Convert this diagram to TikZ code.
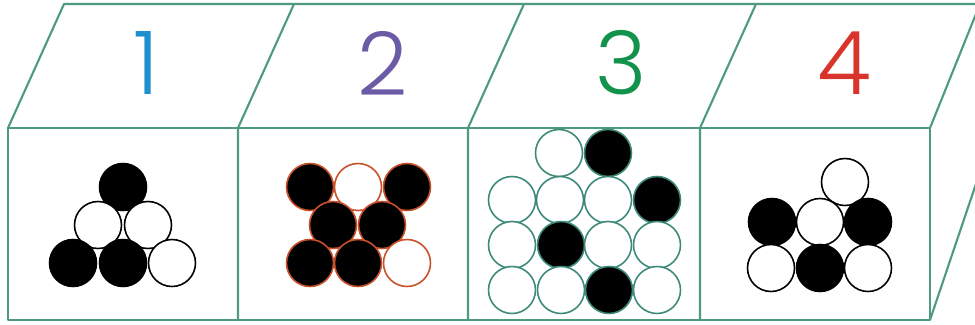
\documentclass[tikz,border=0pt]{standalone}
\usepackage{fontspec}
\setmainfont{Poppins Light}

\definecolor{framegreen}{HTML}{4E9A7C}
\definecolor{numblue}{HTML}{1E90D0}
\definecolor{numpurple}{HTML}{6B5BA6}
\definecolor{numgreen}{HTML}{12924A}
\definecolor{numred}{HTML}{D9342B}
\definecolor{rimred}{HTML}{C8502A}
\definecolor{rimgreen}{HTML}{3E8A78}

\begin{document}
\begin{tikzpicture}[
  x=0.02cm,y=-0.02cm,
  frame/.style={draw=framegreen,line width=1.2pt,line join=round},
  ball/.style={circle,draw,line width=0.9pt,minimum size=0.94cm,inner sep=0pt},
  blk/.style={ball,fill=black},
  wht/.style={ball,fill=white},
  num/.style={font=\fontsize{50}{50}\selectfont}
]
\useasboundingbox (0,0) rectangle (975,325);
\clip (0,0) rectangle (975,325);

% front corners (f = top, b = bottom) and back top corners
\foreach \i/\x in {0/8,1/238,2/468,3/700,4/930} {
  \coordinate (f\i) at (\x,128);
  \coordinate (b\i) at (\x,320);
  \coordinate (t\i) at (\x+56,4);
}
\coordinate (t4) at (980,4);
\coordinate (r4) at (980,172);

% box
\draw[frame] (b0) rectangle (f4);
\draw[frame] (f0) -- (t0) -- (t4) -- (f4);
\draw[frame] (b4) -- (r4) -- (t4);
\foreach \i in {1,2,3} {
  \draw[frame] (b\i) -- (f\i) -- (t\i);
}

% labels
\node[num,text=numblue]   (n1) at (146,63) {1};
\node[num,text=numpurple] (n2) at (383,63) {2};
\node[num,text=numgreen]  (n3) at (621,63) {3};
\node[num,text=numred]    (n4) at (844,63) {4};

% cell 1
\node[blk] (a1) at (123,187) {};
\node[wht] (a2) at (98,225) {};
\node[wht] (a3) at (148,225) {};
\node[blk] (a4) at (73,263) {};
\node[blk] (a5) at (123,263) {};
\node[wht] (a6) at (172,263) {};

% cell 2
\begin{scope}[every node/.append style={draw=rimred}]
\node[blk] (c1) at (310,187) {};
\node[wht] (c2) at (358,187) {};
\node[blk] (c3) at (407,187) {};
\node[blk] (c4) at (333,225) {};
\node[blk] (c5) at (382,225) {};
\node[blk] (c6) at (310,263) {};
\node[blk] (c7) at (358,263) {};
\node[wht] (c8) at (407,263) {};
\end{scope}

% cell 3
\begin{scope}[every node/.append style={draw=rimgreen}]
\node[wht] (d1) at (559,153) {};
\node[blk] (d2) at (608,153) {};
\node[wht] (d3) at (512,200) {};
\node[wht] (d4) at (560,200) {};
\node[wht] (d5) at (608,200) {};
\node[blk] (d6) at (657,200) {};
\node[wht] (d7) at (512,245) {};
\node[blk] (d8) at (561,245) {};
\node[wht] (d9) at (608,245) {};
\node[wht] (d10) at (657,245) {};
\node[wht] (d11) at (512,290) {};
\node[wht] (d12) at (561,290) {};
\node[blk] (d13) at (609,290) {};
\node[wht] (d14) at (657,290) {};
\end{scope}

% cell 4
\node[wht] (e1) at (845,182) {};
\node[blk] (e2) at (772,222) {};
\node[wht] (e3) at (820,222) {};
\node[blk] (e4) at (868,222) {};
\node[wht] (e5) at (771,268) {};
\node[blk] (e6) at (820,268) {};
\node[wht] (e7) at (868,268) {};
\end{tikzpicture}
\end{document}
